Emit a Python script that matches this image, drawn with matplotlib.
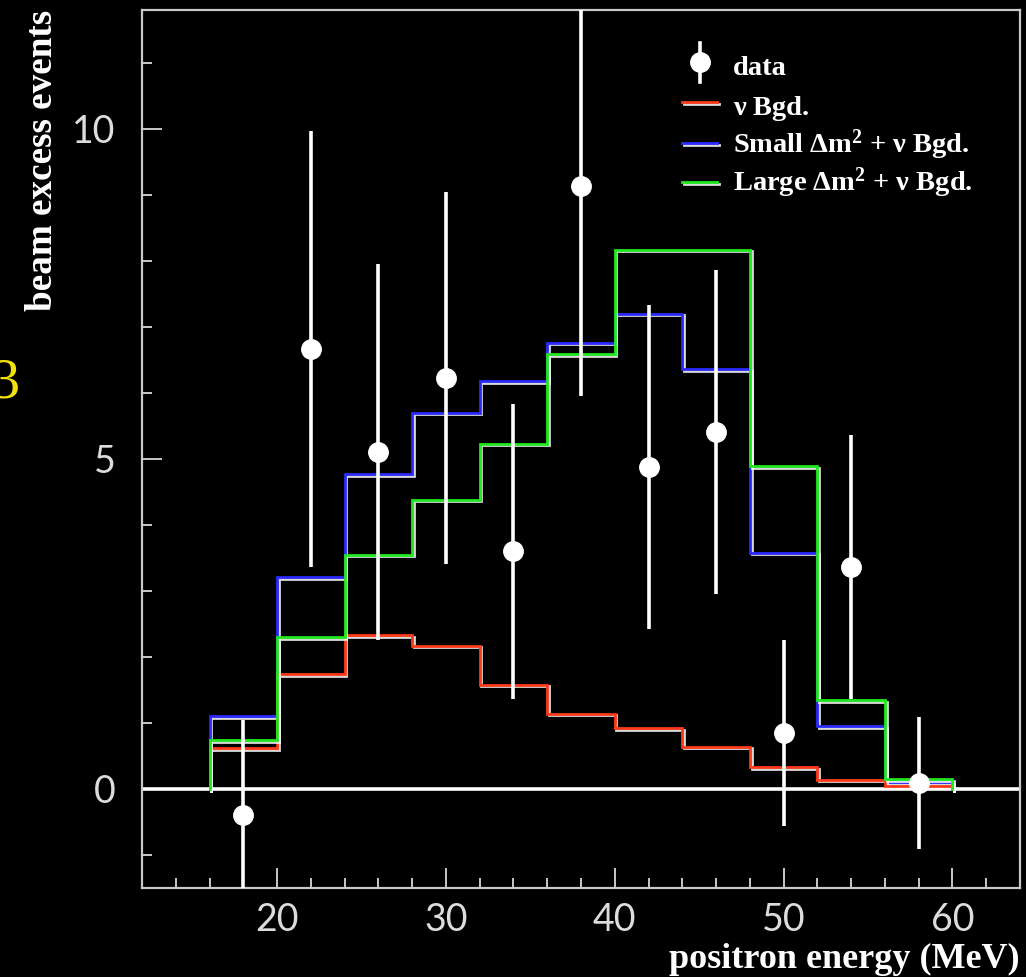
import matplotlib
matplotlib.use("Agg")
import matplotlib.pyplot as plt
import matplotlib.patheffects as pe
from matplotlib.lines import Line2D
import numpy as np

plt.rcParams["mathtext.fontset"] = "custom"
plt.rcParams["mathtext.rm"] = "Liberation Serif:bold"
plt.rcParams["mathtext.bf"] = "Liberation Serif:bold"
plt.rcParams["mathtext.it"] = "Liberation Serif:bold"

# ---- data ----
bin_edges = [16, 20, 24, 28, 32, 36, 40, 44, 48, 52, 56, 60]
bin_centers = [18, 22, 26, 30, 34, 38, 42, 46, 50, 54, 58]
data_values = [-0.4, 6.67, 5.1, 6.23, 3.6, 9.13, 4.88, 5.41, 0.85, 3.36, 0.09]
data_errors = [1.45, 3.3, 2.85, 2.82, 2.23, 3.17, 2.45, 2.45, 1.41, 2.0, 1.0]
nu_bgd = [0.62, 1.74, 2.33, 2.17, 1.58, 1.14, 0.92, 0.64, 0.33, 0.14, 0.05]
small_dm2 = [1.1, 3.21, 4.77, 5.7, 6.18, 6.76, 7.2, 6.36, 3.58, 0.95, 0.1]
large_dm2 = [0.74, 2.3, 3.55, 4.38, 5.23, 6.59, 8.17, 8.17, 4.89, 1.35, 0.15]

labels = ["data", "\u03bd Bgd.", "Small \u0394m$^{2}$ + \u03bd Bgd.", "Large \u0394m$^{2}$ + \u03bd Bgd."]
series_colors = ["white", "#ff3a1a", "#2a2aff", "#1ee81e"]
xticks_major = [20, 30, 40, 50, 60]
yticks_major = [0, 5, 10]

W, H = 1026, 977
fig = plt.figure(figsize=(W / 100, H / 100), dpi=100, facecolor="black")
ax = fig.add_axes([142 / W, 1 - 888 / H, (1020 - 142) / W, (888 - 10) / H])
ax.set_facecolor("black")
ax.set_xlim(12, 64)
ax.set_ylim(-1.5, 11.8)

axis_col = "#c8c8c8"
for s in ax.spines.values():
    s.set_color(axis_col)
    s.set_linewidth(1.6)

# zero line
ax.axhline(0, color="white", lw=2.6, zorder=2)

shadow = [pe.SimpleLineShadow(offset=(1.2, -1.2), shadow_color="white", alpha=0.85), pe.Normal()]

def step_hist(vals, color, z):
    edges = np.array(bin_edges, dtype=float)
    v = np.array(vals, dtype=float)
    xs = np.repeat(edges, 2)
    ys = np.concatenate([[0], np.repeat(v, 2), [0]])
    ax.plot(xs, ys, color=color, lw=2.0, zorder=z, solid_joinstyle="miter",
            path_effects=shadow)

step_hist(small_dm2, series_colors[2], 3)
step_hist(nu_bgd, series_colors[1], 4)
step_hist(large_dm2, series_colors[3], 5)

ax.errorbar(bin_centers, data_values, yerr=data_errors, fmt="o", color="white",
            ms=14, elinewidth=2.6, capsize=0, zorder=6)

# ticks
ax.set_xticks(xticks_major)
ax.set_xticks(np.arange(14, 64, 2), minor=True)
ax.set_yticks(yticks_major)
ax.set_yticks(np.arange(-1, 12, 1), minor=True)
ax.tick_params(which="both", direction="in", color=axis_col, width=1.4,
               top=False, right=False)
ax.tick_params(which="major", length=14.4)
ax.tick_params(which="minor", length=7.2)
ax.tick_params(axis="y", which="major", pad=19, labelcolor="#dcdcdc")
ax.tick_params(axis="x", which="major", pad=10, labelcolor="#dcdcdc")
for lab in ax.get_xticklabels() + ax.get_yticklabels():
    lab.set_fontfamily("Lato")
    lab.set_fontweight("normal")
    lab.set_fontsize(27)

serif_bold = dict(family="Liberation Serif", weight="bold", color="white")
fig.text(1020 / W, (H - 968) / H, "positron energy (MeV)", ha="right", va="baseline",
         fontsize=26, **serif_bold)
fig.text(43 / W, 1 - 10 / H, "beam excess events", rotation=90, ha="center", va="top",
         fontsize=26.7, **serif_bold)

# stray yellow slide number
fig.text(19 / W, (H - 397) / H, "3", ha="right", va="baseline", fontsize=42,
         family="Liberation Serif", color="#f2e20a")

# ---- legend (drawn in figure pixels) ----
def fx(px):
    return px / W

def fy(py):
    return 1 - py / H

text_baselines = [75, 115, 153, 191]
handle_rows = [62, 102, 143, 182]
for i, lab in enumerate(labels):
    fig.text(fx(733), fy(text_baselines[i]), lab, ha="left", va="baseline",
             fontsize=20.5, **serif_bold)
    if i == 0:
        fig.add_artist(Line2D([fx(700), fx(700)], [fy(43), fy(82)], transform=fig.transFigure,
                              color="white", lw=2.6))
        fig.add_artist(Line2D([fx(700)], [fy(handle_rows[i])], transform=fig.transFigure,
                              marker="o", ms=14, color="white", lw=0))
    else:
        fig.add_artist(Line2D([fx(682), fx(717)], [fy(handle_rows[i])] * 2,
                              transform=fig.transFigure, color=series_colors[i], lw=2.0,
                              path_effects=shadow))

fig.savefig("out.png", dpi=100, facecolor="black")
